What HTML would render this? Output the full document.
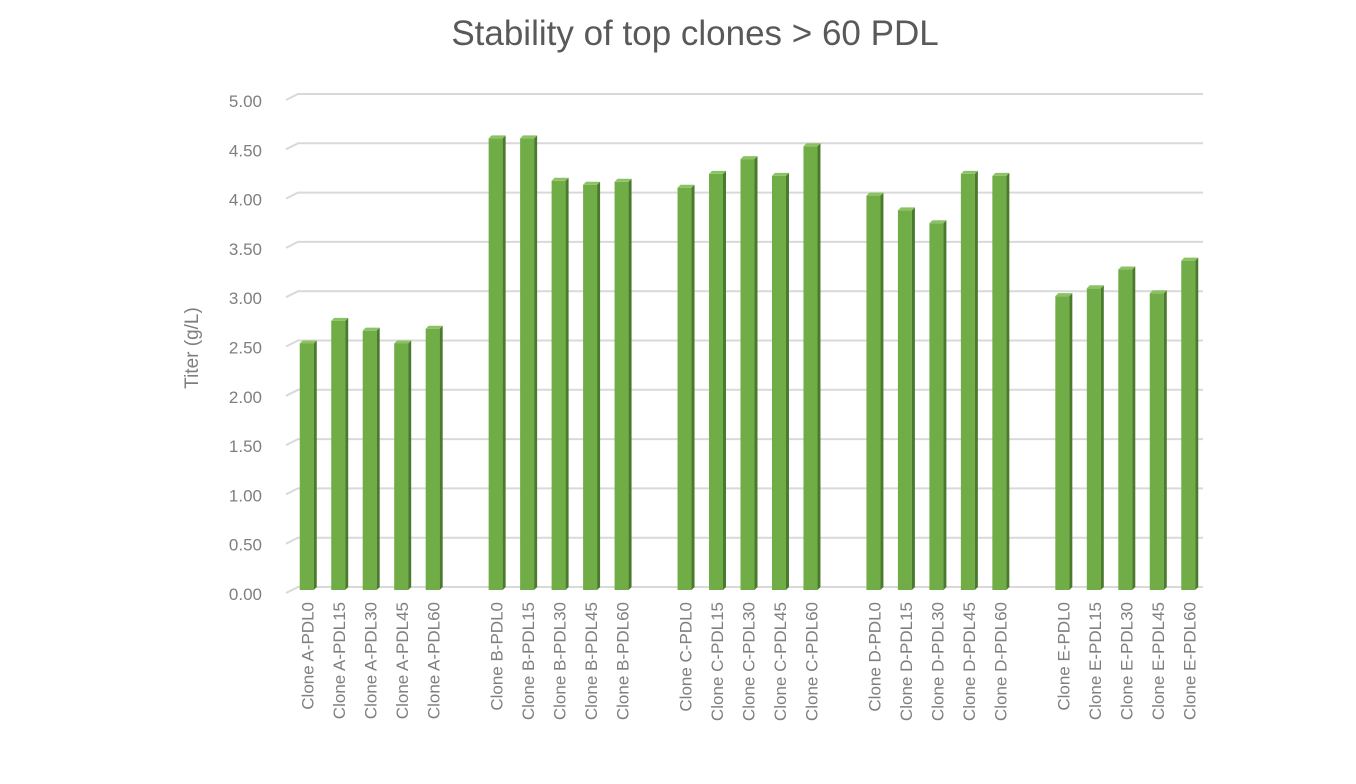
<!DOCTYPE html>
<html><head><meta charset="utf-8"><style>
body{margin:0;background:#fff;}
svg{display:block;font-family:"Liberation Sans",sans-serif;}
</style></head><body>
<svg id="chart" width="1356" height="784" viewBox="0 0 1356 784">
<text x="695" y="45" text-anchor="middle" font-size="35" fill="#595959">Stability of top clones &gt; 60 PDL</text>
<text transform="translate(198,348) rotate(-90)" text-anchor="middle" font-size="19" fill="#7f7f7f">Titer (g/L)</text>
<g id="grid"></g><g id="yt"></g><g id="bars"></g><g id="xl"></g>
</svg>
<script>
const groups=["A","B","C","D","E"];
const pdls=["PDL0","PDL15","PDL30","PDL45","PDL60"];
const valuesA=[2.50,2.73,2.63,2.50,2.65];
const valuesB=[4.58,4.58,4.15,4.11,4.14];
const valuesC=[4.08,4.22,4.37,4.20,4.50];
const valuesD=[4.00,3.85,3.72,4.22,4.20];
const valuesE=[2.98,3.06,3.25,3.01,3.34];
const yTicks=[0,0.5,1,1.5,2,2.5,3,3.5,4,4.5,5];
const allVals=[valuesA,valuesB,valuesC,valuesD,valuesE];
const NS="http://www.w3.org/2000/svg";
const x0=290,x1=1203,slot=(x1-x0)/29;
const y=v=>587-v*98.6;
function mk(t,a,p){const e=document.createElementNS(NS,t);for(const k in a)e.setAttribute(k,a[k]);p.appendChild(e);return e;}
const grid=document.getElementById('grid'),yt=document.getElementById('yt'),bars=document.getElementById('bars'),xl=document.getElementById('xl');
yTicks.forEach(v=>{
 const g=mk('path',{d:`M${x0-4} ${y(v)+6} L${x0+8} ${y(v)} L${x1} ${y(v)}`,stroke:'#d9d9d9','stroke-width':2,fill:'none'},grid);
 
 
 const t=mk('text',{x:262,y:y(v)+13,'text-anchor':'end','font-size':17,fill:'#7f7f7f'},yt);
 t.textContent=v.toFixed(2);
 
 
});
groups.forEach((g,gi)=>{
 allVals[gi].forEach((v,i)=>{
  const s=gi*6+i;
  const cx=x0+(s+0.5)*slot+2;
  const bx=cx-8,bw=14,top=y(v)+3,bot=590;
  const b=mk('g',{},bars);
  
  
  mk('rect',{x:bx,y:top,width:bw,height:bot-top,fill:'#70ad47'},b);
  mk('path',{d:`M${bx+bw} ${top} L${bx+bw+3} ${top-3} L${bx+bw+3} ${bot-3} L${bx+bw} ${bot} Z`,fill:'#4a7a2c'},b);
  mk('path',{d:`M${bx} ${top} L${bx+3} ${top-3} L${bx+bw+3} ${top-3} L${bx+bw} ${top} Z`,fill:'#8cc263'},b);
  const t=mk('text',{transform:`translate(${cx+6},602) rotate(-90)`,'text-anchor':'end','font-size':17,fill:'#7f7f7f'},xl);
  t.textContent='Clone '+g+'-'+pdls[i];
  
  
 });
});
</script>
</body></html>
